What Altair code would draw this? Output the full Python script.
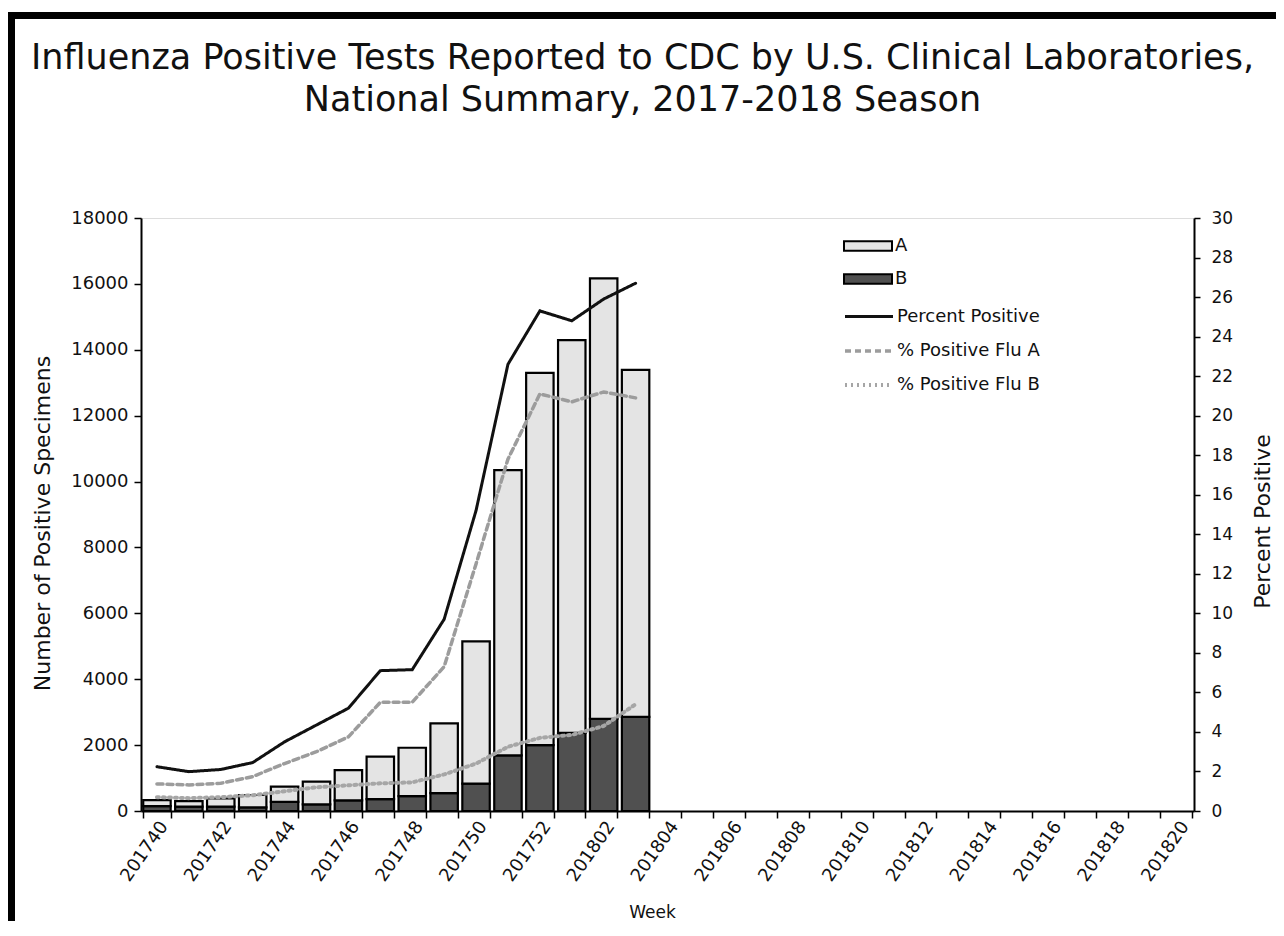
import altair as alt
import pandas as pd

# ---- data ----
weeks_all = [str(w) for w in range(201740, 201753)] + [str(w) for w in range(201801, 201821)]
weeks_data = weeks_all[:16]

flu_a = [180, 170, 255, 375, 460, 690, 920, 1290, 1470, 2120, 4320, 8660, 11300, 11920, 13370, 10530]
flu_b = [150, 130, 130, 110, 280, 200, 320, 360, 450, 540, 830, 1690, 2000, 2370, 2800, 2860]

pct_total = [2.24, 1.99, 2.1, 2.45, 3.5, 4.35, 5.2, 7.1, 7.15, 9.7, 15.2, 22.6, 25.3, 24.8, 25.9, 26.7]
pct_flu_a = [1.37, 1.32, 1.40, 1.74, 2.4, 3.0, 3.75, 5.5, 5.5, 7.3, 12.5, 17.8, 21.1, 20.7, 21.2, 20.9]
pct_flu_b = [0.7, 0.65, 0.7, 0.8, 1.0, 1.2, 1.3, 1.4, 1.45, 1.85, 2.4, 3.25, 3.7, 3.85, 4.3, 5.4]

bar_types = ["A", "B"]
line_series = ["Percent Positive", "% Positive Flu A", "% Positive Flu B"]

# ---- tables ----
bar_rows = []
for w, a, b in zip(weeks_data, flu_a, flu_b):
    bar_rows.append({"week": w, "type": "B", "lo": 0, "hi": b})
    bar_rows.append({"week": w, "type": "A", "lo": b, "hi": b + a})
bars_df = pd.DataFrame(bar_rows)

line_rows = []
for name, vals in zip(line_series, [pct_total, pct_flu_a, pct_flu_b]):
    for w, v in zip(weeks_data, vals):
        line_rows.append({"week": w, "series": name, "pct": v})
lines_df = pd.DataFrame(line_rows)

FONT = "DejaVu Sans"
W, H = 1053, 593

x_enc = alt.X(
    "week:N",
    scale=alt.Scale(domain=weeks_all, paddingInner=0.14, paddingOuter=0.07),
    axis=alt.Axis(
        title="Week",
        labelExpr="toNumber(datum.value) % 2 == 0 ? datum.value : ''",
        labelAngle=305,
        labelAlign="right",
        labelBaseline="middle",
        labelFont=FONT,
        labelFontSize=18,
        labelColor="#111",
        labelPadding=5,
        labelOffset=7,
        tickBand="extent",
        tickSize=7,
        tickColor="black",
        tickWidth=1.5,
        domainColor="black",
        domainWidth=2,
        titleFont=FONT,
        titleFontSize=17,
        titleFontWeight="normal",
        titleColor="#111",
        titleX=511,
        titleY=101,
        titleBaseline="middle",
        titleAlign="center",
        labelOverlap=False,
    ),
)

legend_common = dict(
    title=None,
    orient="none",
    legendX=714,
    padding=0,
    symbolSize=576,
    labelFont=FONT,
    labelFontSize=18,
    labelColor="#111",
    labelOffset=14,
    rowPadding=11,
)

bars = alt.Chart(bars_df).mark_bar(stroke="black", strokeWidth=2.2).encode(
    x=x_enc,
    y=alt.Y(
        "hi:Q",
        scale=alt.Scale(domain=[0, 18000], nice=False),
        axis=alt.Axis(
            title="Number of Positive Specimens",
            values=list(range(0, 18001, 2000)),
            format="d",
            orient="left",
            labelFont=FONT,
            labelFontSize=18,
            labelColor="#111",
            labelPadding=6,
            tickSize=7,
            tickColor="black",
            tickWidth=1.5,
            domainColor="black",
            domainWidth=2,
            grid=False,
            titleFont=FONT,
            titleFontSize=22,
            titleFontWeight="normal",
            titleColor="#111",
            titleX=-99,
            titleY=305,
            titleAngle=270,
            titleAlign="center",
            titleBaseline="middle",
        ),
    ),
    y2="lo:Q",
    fill=alt.Fill(
        "type:N",
        scale=alt.Scale(domain=bar_types, range=["#e4e4e4", "#505050"]),
        legend=alt.Legend(
            legendY=15,
            symbolType="M-2,-0.4H2V0.4H-2Z",
            symbolStrokeColor="black",
            symbolStrokeWidth=2,
            **legend_common,
        ),
    ),
)

line_legend = dict(
    legendY=85,
    symbolType="M-2,0H2",
    symbolStrokeWidth=3,
    **legend_common,
)

lines = alt.Chart(lines_df).mark_line(strokeCap="round").encode(
    x=x_enc,
    y=alt.Y(
        "pct:Q",
        scale=alt.Scale(domain=[0, 30], nice=False),
        axis=alt.Axis(
            title="Percent Positive",
            values=list(range(0, 31, 2)),
            orient="right",
            labelFont=FONT,
            labelFontSize=17,
            labelColor="#111",
            labelPadding=11,
            tickSize=6,
            tickColor="black",
            tickWidth=1.5,
            domainColor="black",
            domainWidth=2,
            grid=False,
            titleFont=FONT,
            titleFontSize=22,
            titleFontWeight="normal",
            titleColor="#111",
            titleX=68,
            titleY=303,
            titleAngle=270,
            titleAlign="center",
            titleBaseline="middle",
        ),
    ),
    color=alt.Color(
        "series:N",
        scale=alt.Scale(domain=line_series, range=["#111111", "#9c9c9c", "#a6a6a6"]),
        legend=alt.Legend(**line_legend),
    ),
    strokeDash=alt.StrokeDash(
        "series:N",
        scale=alt.Scale(domain=line_series, range=[[1, 0], [6, 4], [2, 4]]),
        legend=alt.Legend(**line_legend),
    ),
    strokeWidth=alt.StrokeWidth(
        "series:N",
        scale=alt.Scale(domain=line_series, range=[3, 4, 3]),
        legend=None,
    ),
    order=alt.Order("week:N"),
)

frame_df = pd.DataFrame({"k": [0]})
frame_top = alt.Chart(frame_df).mark_rule(color="black", strokeWidth=7).encode(
    x=alt.value(-133), x2=alt.value(1135), y=alt.value(-202.5)
)
frame_left = alt.Chart(frame_df).mark_rule(color="black", strokeWidth=7).encode(
    x=alt.value(-129.5), y=alt.value(-206), y2=alt.value(703)
)

chart = (
    alt.layer(bars, lines, frame_top, frame_left)
    .resolve_scale(y="independent")
    .properties(
        width=W,
        height=H,
        autosize=alt.AutoSizeParams(type="none"),
        padding={"left": 133, "top": 210, "right": 82, "bottom": 110},
        title=alt.TitleParams(
            text=[
                "Influenza Positive Tests Reported to CDC by U.S. Clinical Laboratories,",
                "National Summary, 2017-2018 Season",
            ],
            font=FONT,
            fontSize=35,
            fontWeight="normal",
            color="#111",
            anchor="middle",
            frame="group",
            dx=-25,
            offset=0,
            dy=109,
            lineHeight=42,
        ),
    )
    .configure_view(stroke=None)
    .configure(background="white")
)

chart.save("out.html", embed_options={"renderer": "svg", "actions": False})
